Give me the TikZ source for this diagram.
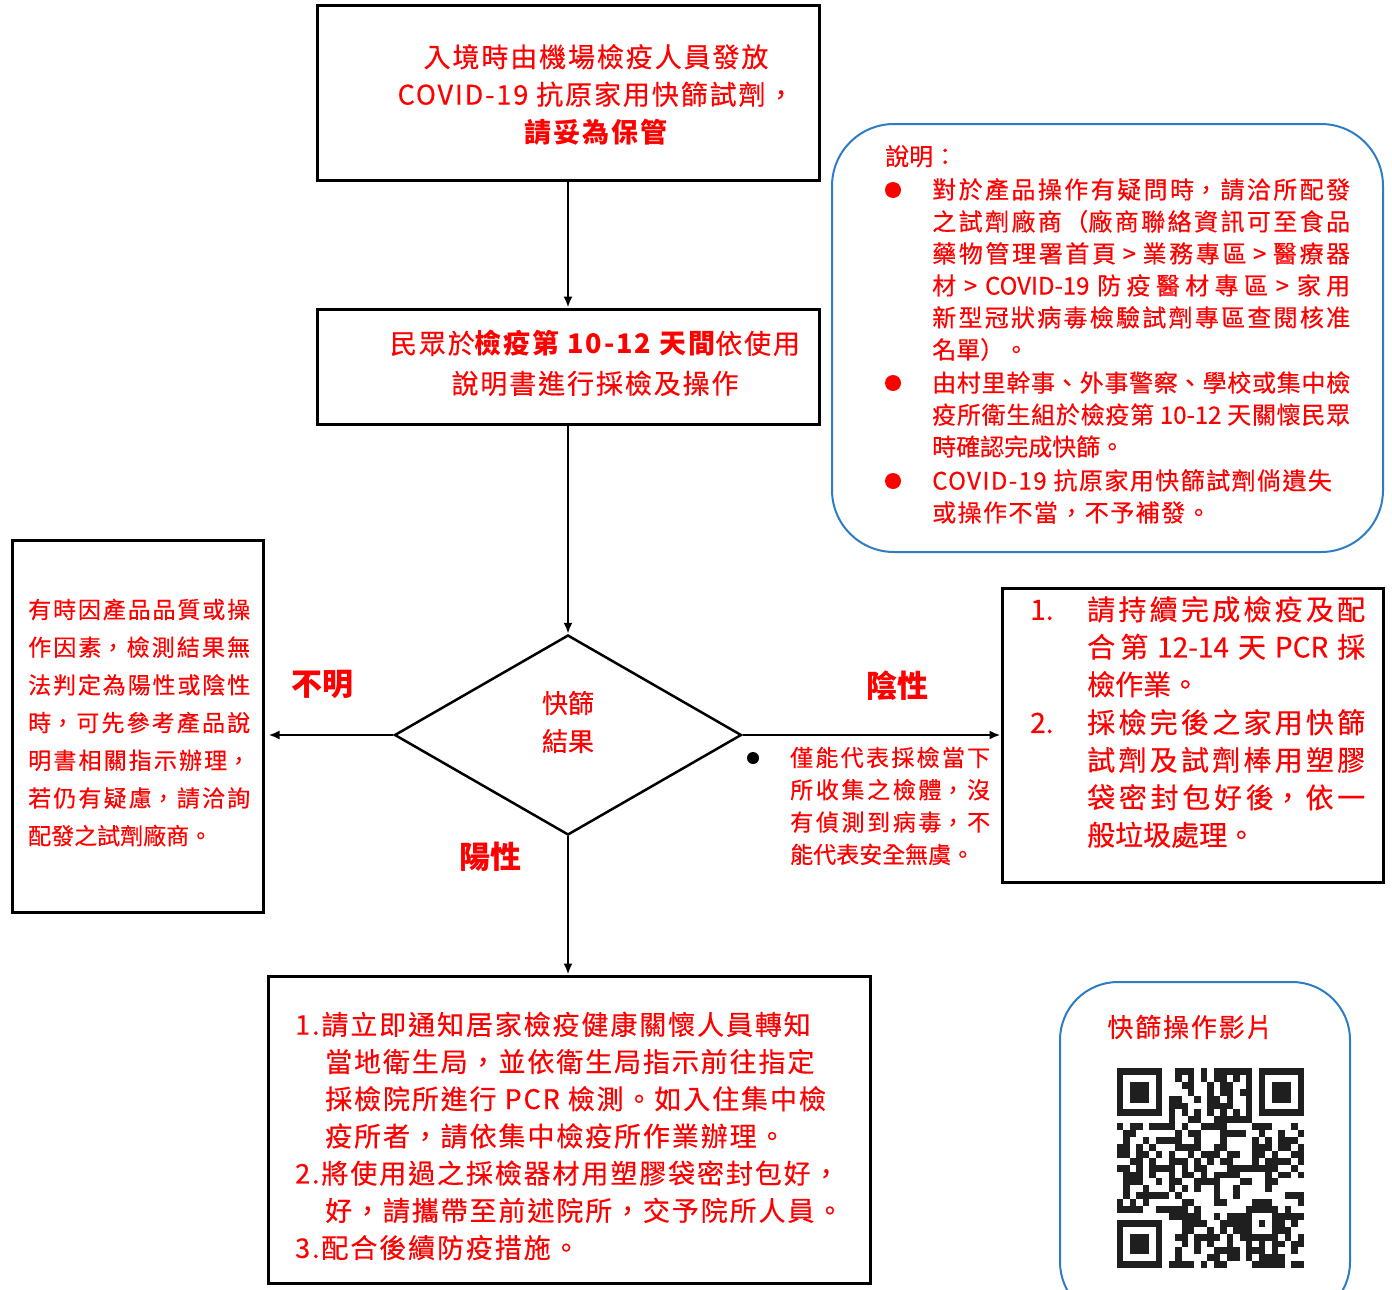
\documentclass[tikz,border=0pt]{standalone}
\usepackage{fontspec}
\setmainfont{Noto Sans CJK TC}[UprightFeatures={FakeBold=0.4}]
\usetikzlibrary{arrows.meta,shapes.geometric}
\XeTeXlinebreaklocale "zh"
\XeTeXlinebreakskip=0pt plus 6pt
\definecolor{tred}{RGB}{255,0,0}
\definecolor{tblue}{RGB}{46,125,196}
\begin{document}
\begin{tikzpicture}[x=1pt,y=-1pt,
  box/.style={draw=black, line width=3pt, inner sep=0pt},
  rbox/.style={draw=tblue, line width=2pt, rounded corners=62pt, inner sep=0pt},
  arr/.style={line width=2.5pt, -{Latex[length=11pt,width=9pt]}},
  txt/.style={text=tred, inner sep=0pt},
  lbl/.style={txt, font=\bfseries\fontsize{31}{31}\selectfont},
  bul/.style={circle, fill=tred, minimum size=16pt, inner sep=0pt},
]
\useasboundingbox (0,0) rectangle (1392,1290);
\clip (0,0) rectangle (1392,1290);

% boxes
\node[box, minimum width=502pt, minimum height=174pt] (top) at (568,93) {};
\node[box, minimum width=502pt, minimum height=115pt] (mid) at (568,366.5) {};
\node[draw, line width=2.5pt, diamond, aspect=1.735, minimum width=347pt, minimum height=200pt, inner sep=0pt] (dia) at (568,735) {};
\node[box, minimum width=251pt, minimum height=372pt] (left) at (137.5,726) {};
\node[box, minimum width=381pt, minimum height=294pt] (right) at (1192.5,735) {};
\node[box, minimum width=602pt, minimum height=307pt] (bot) at (569,1129.5) {};
\node[rbox, minimum width=551pt, minimum height=428pt] (note) at (1107.5,338) {};
\node[rbox, rounded corners=58pt, minimum width=290pt, minimum height=338pt] (qrbox) at (1205,1151) {};

% connectors
\draw[arr] (top.south) -- (mid.north);
\draw[arr] (mid.south) -- (dia.north);
\draw[arr, shorten >=4pt] (dia.west) -- (dia.west -| left.east);
\draw[arr] (dia.east) -- (right.west);
\draw[arr] (dia.south) -- (dia.south |- bot.north);

% labels
\node[lbl] (lunk) at (322,684) {不明};
\node[lbl] (lneg) at (897,686) {陰性};
\node[lbl] (lpos) at (490,857) {陽性};

% texts
\node[txt, align=center, font=\fontsize{27}{37.5}\selectfont\addfontfeature{LetterSpace=7}] (ttxt) at (596,94.5)
  {入境時由機場檢疫人員發放\\COVID-19 抗原家用快篩試劑，\\{\bfseries 請妥為保管}};
\node[txt, align=center, font=\fontsize{27}{40}\selectfont\addfontfeature{LetterSpace=7}] (mtxt) at (595,363)
  {民眾於{\bfseries 檢疫第 10-12 天間}依使用\\說明書進行採檢及操作};
\node[txt, align=center, font=\fontsize{26}{38}\selectfont] (dtxt) at (568,722) {快篩\\結果};

\node[txt, anchor=north west, text width=222pt, align=justify, font=\fontsize{23}{37.7}\selectfont] (ltxt) at (28,598.5)
  {有時因產品品質或操\linebreak 作因素，檢測結果無\linebreak 法判定為陽性或陰性\linebreak 時，可先參考產品說\linebreak 明書相關指示辦理，\linebreak 若仍有疑慮，請洽詢\linebreak 配發之試劑廠商。};

\node[circle, fill=black, minimum size=12pt, inner sep=0pt] (nbul) at (753,758) {};
\node[txt, anchor=north west, text width=200pt, align=justify, font=\fontsize{23}{32.3}\selectfont] (ntxt) at (790,746.5)
  {僅能代表採檢當下\linebreak 所收集之檢體，沒\linebreak 有偵測到病毒，不\linebreak 能代表安全無虞。};

\node[txt, anchor=west, font=\fontsize{28}{28}\selectfont] (n1) at (1030,610) {1.};
\node[txt, anchor=west, font=\fontsize{28}{28}\selectfont] (n2) at (1030,723) {2.};
\node[txt, anchor=north west, text width=278pt, align=justify, font=\fontsize{28}{37.5}\selectfont] (r1) at (1087,596)
  {請持續完成檢疫及配\linebreak 合第 12-14 天 PCR 採\linebreak 檢作業。};
\node[txt, anchor=north west, text width=278pt, align=justify, font=\fontsize{28}{37.5}\selectfont] (r2) at (1087,709)
  {採檢完後之家用快篩\linebreak 試劑及試劑棒用塑膠\linebreak 袋密封包好後，依一\linebreak 般垃圾處理。};

\node[txt, anchor=north west, align=left, font=\fontsize{27}{37.2}\selectfont\addfontfeature{LetterSpace=7}] (btxt) at (295,1011.5)
  {1.請立即通知居家檢疫健康關懷人員轉知\\
   \hspace*{30pt}當地衛生局，並依衛生局指示前往指定\\
   \hspace*{30pt}採檢院所進行 PCR 檢測。如入住集中檢\\
   \hspace*{30pt}疫所者，請依集中檢疫所作業辦理。\\
   2.將使用過之採檢器材用塑膠袋密封包好，\\
   \hspace*{30pt}好，請攜帶至前述院所，交予院所人員。\\
   3.配合後續防疫措施。};

% note box content
\node[txt, anchor=north west, font=\fontsize{24}{24}\selectfont] (ntitle) at (885,145) {說明：};
\node[bul] (b1) at (893,190) {};
\node[bul] (b2) at (893,383) {};
\node[bul] (b3) at (893,481) {};
\node[txt, anchor=north west, text width=418pt, align=justify, font=\fontsize{24}{32}\selectfont] (nt1) at (932,178)
  {對於產品操作有疑問時，請洽所配發\linebreak 之試劑廠商（廠商聯絡資訊可至食品\linebreak 藥物管理署首頁 > 業務專區 > 醫療器\linebreak 材 > COVID-19 防疫醫材專區 > 家用\linebreak 新型冠狀病毒檢驗試劑專區查閱核准\linebreak 名單）。};
\node[txt, anchor=north west, text width=418pt, align=justify, font=\fontsize{24}{32}\selectfont] (nt2) at (932,371)
  {由村里幹事、外事警察、學校或集中檢\linebreak 疫所衛生組於檢疫第 10-12 天關懷民眾\linebreak 時確認完成快篩。};
\node[txt, anchor=north west, align=left, font=\fontsize{24}{32}\selectfont\addfontfeature{LetterSpace=6}] (nt3) at (932,469)
  {COVID-19 抗原家用快篩試劑倘遺失\\或操作不當，不予補發。};

% QR box content
\node[txt, font=\fontsize{26}{26}\selectfont\addfontfeature{LetterSpace=7}] (qtitle) at (1190,1027) {快篩操作影片};
\begin{scope}[shift={(1117,1068)}, x=6.45pt, y=-6.9pt, black!88]
  \foreach \ox/\oy in {0/0,22/0,0/22}{
    \fill (\ox,\oy) rectangle ++(7,7);
    \fill[white] (\ox+1,\oy+1) rectangle ++(5,5);
    \fill (\ox+2,\oy+2) rectangle ++(3,3);
  }
  \fill (20,20) rectangle ++(5,5);
  \fill[white] (21,21) rectangle ++(3,3);
  \fill (22,22) rectangle ++(1,1);
  \foreach \k in {8,10,...,20}{
    \fill (\k,6) rectangle ++(1,1);
    \fill (6,\k) rectangle ++(1,1);
  }
  \pgfmathsetseed{11}
  \foreach \i in {0,...,28}{
    \foreach \j in {0,...,28}{
      \pgfmathtruncatemacro\sk{((\i<8)&&(\j<8))||((\i>20)&&(\j<8))||((\i<8)&&(\j>20))||(\i==6)||(\j==6)||((\i>19)&&(\i<25)&&(\j>19)&&(\j<25))}
      \pgfmathtruncatemacro\on{rnd<0.5}
      \ifnum\sk=0 \ifnum\on=1 \fill (\i,\j) rectangle ++(1,1); \fi\fi
    }
  }
\end{scope}
\end{tikzpicture}
\end{document}
